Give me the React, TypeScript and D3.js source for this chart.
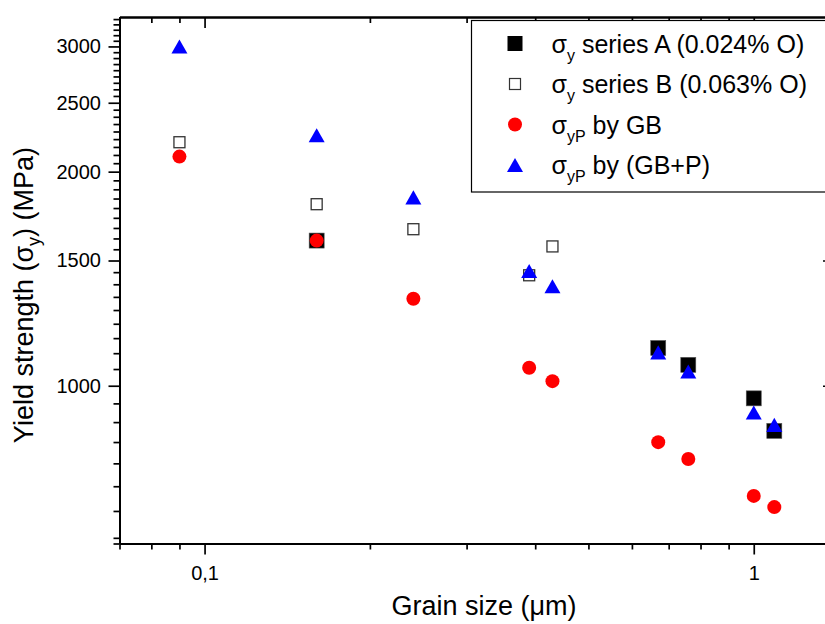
import React, { useRef, useEffect } from "react";
import * as d3 from "d3";

// grain size (um) and yield strength (MPa)
const grainA = [0.16, 0.67, 0.76, 1.0, 1.09];
const sigmaA = [1600, 1130, 1070, 960, 864];
const grainB = [0.09, 0.16, 0.24, 0.39, 0.43];
const sigmaB = [2200, 1800, 1660, 1430, 1570];
const grainCalc = [0.09, 0.16, 0.24, 0.39, 0.43, 0.67, 0.76, 1.0, 1.09];
const sigmaGB = [2100, 1600, 1325, 1060, 1015, 833, 789, 700, 675];
const sigmaGBP = [3000, 2250, 1840, 1450, 1380, 1114, 1047, 917, 881];

const xTickValues = [0.1, 1];
const xTickLabels = ["0,1", "1"];
const xMinorValues = [0.07, 0.08, 0.09, 0.2, 0.3, 0.4, 0.5, 0.6, 0.7, 0.8, 0.9];
const yTickValues = [1000, 1500, 2000, 2500, 3000];

const W = 825;
const H = 624;
const left = 119.5;
const right = 834;
const top = 17;
const bottom = 543.5;
const FONT = "'Liberation Sans', Arial, Helvetica, sans-serif";

const App = () => {
  const svgRef = useRef<SVGSVGElement>(null);

  useEffect(() => {
    const svg = d3.select(svgRef.current);
    svg.selectAll("*").remove();

    const x = d3.scaleLog().domain([0.07, 1.4]).range([left, right]);
    const y = d3.scaleLog().domain([600, 3300]).range([bottom, top]);

    // 8 minor ticks between majors (step 500/9)
    const yMinor: number[] = [];
    for (let m = 500; m < 3500; m += 500) {
      for (let k = 1; k <= 8; k++) {
        const v = m + (k * 500) / 9;
        if (v >= 600 && v <= 3300) yMinor.push(v);
      }
    }
    yMinor.push(600);

    const styleAxis = (g: any, labels: boolean) => {
      g.select(".domain").attr("stroke", "#000").attr("stroke-width", 2);
      g.selectAll(".tick line").attr("stroke", "#000").attr("stroke-width", 1.7);
      g.attr("font-family", FONT).attr("font-size", 20);
      g.selectAll(".tick text").attr("fill", "#000");
      if (!labels) g.selectAll(".tick text").remove();
    };

    const fmtX = (d: any) => xTickLabels[xTickValues.indexOf(d)];

    // bottom
    svg.append("g").attr("transform", `translate(0,${bottom})`)
      .call(d3.axisBottom(x).tickValues(xMinorValues).tickSize(6).tickSizeOuter(0).tickFormat(() => ""))
      .call((g: any) => styleAxis(g, false));
    svg.append("g").attr("transform", `translate(0,${bottom})`)
      .call(d3.axisBottom(x).tickValues(xTickValues).tickSize(11).tickPadding(11).tickSizeOuter(0).tickFormat(fmtX))
      .call((g: any) => styleAxis(g, true));
    // top (ticks inward)
    svg.append("g").attr("transform", `translate(0,${top})`)
      .call(d3.axisBottom(x).tickValues(xMinorValues).tickSize(6).tickSizeOuter(0).tickFormat(() => ""))
      .call((g: any) => styleAxis(g, false));
    svg.append("g").attr("transform", `translate(0,${top})`)
      .call(d3.axisBottom(x).tickValues(xTickValues).tickSize(11).tickSizeOuter(0).tickFormat(() => ""))
      .call((g: any) => styleAxis(g, false));
    // left
    svg.append("g").attr("transform", `translate(${left},0)`)
      .call(d3.axisLeft(y).tickValues(yMinor).tickSize(6).tickSizeOuter(0).tickFormat(() => ""))
      .call((g: any) => styleAxis(g, false));
    svg.append("g").attr("transform", `translate(${left},0)`)
      .call(d3.axisLeft(y).tickValues(yTickValues).tickSize(11).tickPadding(7.5).tickSizeOuter(0).tickFormat(d3.format("d")))
      .call((g: any) => styleAxis(g, true));
    // right (ticks inward)
    svg.append("g").attr("transform", `translate(${right},0)`)
      .call(d3.axisLeft(y).tickValues(yMinor).tickSize(6).tickSizeOuter(0).tickFormat(() => ""))
      .call((g: any) => styleAxis(g, false));
    svg.append("g").attr("transform", `translate(${right},0)`)
      .call(d3.axisLeft(y).tickValues(yTickValues).tickSize(11).tickSizeOuter(0).tickFormat(() => ""))
      .call((g: any) => styleAxis(g, false));

    // axis titles
    svg.append("text")
      .attr("x", 484).attr("y", 615)
      .attr("text-anchor", "middle")
      .attr("font-family", FONT).attr("font-size", 27)
      .text("Grain size (\u03bcm)");

    const yt = svg.append("text")
      .attr("transform", "translate(33,295) rotate(-90)")
      .attr("text-anchor", "middle")
      .attr("font-family", FONT).attr("font-size", 27);
    yt.append("tspan").text("Yield strength (\u03c3");
    yt.append("tspan").attr("font-size", 18).attr("dy", 7).text("y");
    yt.append("tspan").attr("dy", -7).text(") (MPa)");

    const tri = (s: number) => `M${-s / 2},${s * 0.44}L${s / 2},${s * 0.44}L0,${-s * 0.44}Z`;

    // series A: filled squares
    const sqA = 15;
    svg.append("g").selectAll("rect")
      .data(grainA.map((g, i) => [g, sigmaA[i]]))
      .join("rect")
      .attr("x", (d) => x(d[0]) - sqA / 2).attr("y", (d) => y(d[1]) - sqA / 2)
      .attr("width", sqA).attr("height", sqA)
      .attr("fill", "#000").attr("stroke", "#555").attr("stroke-width", 0.6);

    // series B: open squares
    const sqB = 11;
    svg.append("g").selectAll("rect")
      .data(grainB.map((g, i) => [g, sigmaB[i]]))
      .join("rect")
      .attr("x", (d) => x(d[0]) - sqB / 2).attr("y", (d) => y(d[1]) - sqB / 2)
      .attr("width", sqB).attr("height", sqB)
      .attr("fill", "#fff").attr("stroke", "#333").attr("stroke-width", 1.3);

    // GB: red circles
    svg.append("g").selectAll("circle")
      .data(grainCalc.map((g, i) => [g, sigmaGB[i]]))
      .join("circle")
      .attr("cx", (d) => x(d[0])).attr("cy", (d) => y(d[1]))
      .attr("r", 7).attr("fill", "#ff0000");

    // GB+P: blue triangles
    svg.append("g").selectAll("path")
      .data(grainCalc.map((g, i) => [g, sigmaGBP[i]]))
      .join("path")
      .attr("transform", (d) => `translate(${x(d[0])},${y(d[1])})`)
      .attr("d", tri(16)).attr("fill", "#0000ff");

    // legend
    const lg = svg.append("g");
    lg.append("rect")
      .attr("x", 471.5).attr("y", 20.5).attr("width", 400).attr("height", 171.5)
      .attr("fill", "#fff").attr("stroke", "#000").attr("stroke-width", 1.2);

    const rows = [
      { sub: "y", label: " series A (0.024% O)" },
      { sub: "y", label: " series B (0.063% O)" },
      { sub: "yP", label: " by GB" },
      { sub: "yP", label: " by (GB+P)" },
    ];
    const rowBase = [52.5, 93, 133.5, 174];
    const symX = 515;

    lg.append("rect").attr("x", symX - 7.5).attr("y", rowBase[0] - 9 - 7.5)
      .attr("width", 15).attr("height", 15).attr("fill", "#000");
    lg.append("rect").attr("x", symX - 5.5).attr("y", rowBase[1] - 9 - 5.5)
      .attr("width", 11).attr("height", 11).attr("fill", "#fff").attr("stroke", "#333").attr("stroke-width", 1.2);
    lg.append("circle").attr("cx", symX).attr("cy", rowBase[2] - 9).attr("r", 7).attr("fill", "#ff0000");
    lg.append("path").attr("transform", `translate(${symX},${rowBase[3] - 9})`).attr("d", tri(16)).attr("fill", "#0000ff");

    rows.forEach((r, i) => {
      const t = lg.append("text")
        .attr("x", 551.5).attr("y", rowBase[i])
        .attr("font-family", FONT).attr("font-size", 25);
      t.append("tspan").text("\u03c3");
      t.append("tspan").attr("font-size", 16).attr("dy", 8).text(r.sub);
      t.append("tspan").attr("dy", -8).text(r.label);
    });
  }, []);

  return (
    <svg
      ref={svgRef}
      width={W}
      height={H}
      style={{ position: "absolute", left: 0, top: 0, background: "#fff" }}
    />
  );
};

export default App;
